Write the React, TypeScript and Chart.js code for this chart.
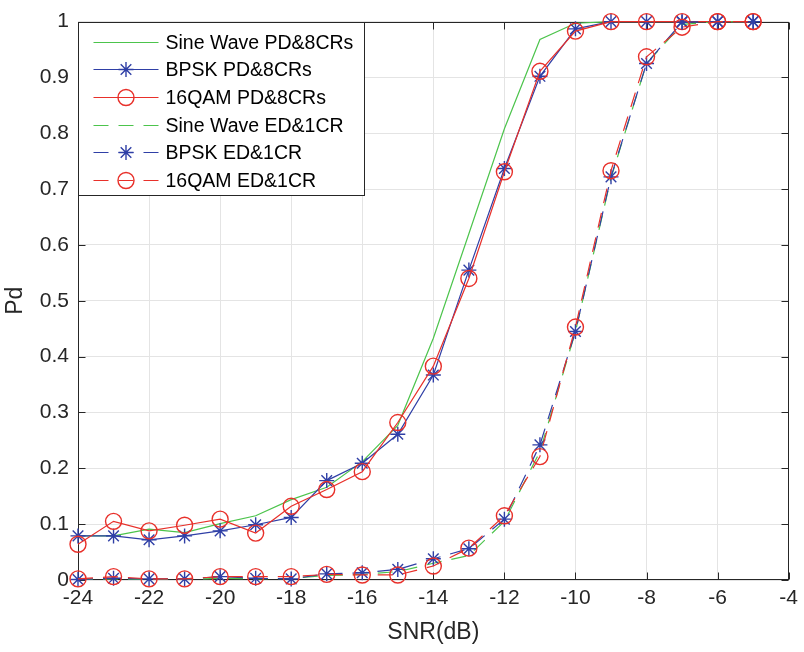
import React, { useEffect, useRef } from 'react';
import { Chart, registerables } from 'chart.js';

Chart.register(...registerables);

// ---- data ----
const snr = [-24, -23, -22, -21, -20, -19, -18, -17, -16, -15, -14, -13, -12, -11, -10, -9, -8, -7, -6, -5];

const sinePD = [0.079, 0.079, 0.091, 0.085, 0.101, 0.115, 0.144, 0.166, 0.212, 0.277, 0.433, 0.62, 0.808, 0.968, 0.997, 1, 1, 1, 1, 1];
const bpskPD = [0.079, 0.079, 0.072, 0.079, 0.088, 0.099, 0.112, 0.178, 0.209, 0.261, 0.367, 0.555, 0.737, 0.902, 0.987, 1, 1, 1, 1, 1];
const qamPD = [0.064, 0.105, 0.088, 0.098, 0.109, 0.084, 0.132, 0.162, 0.194, 0.282, 0.383, 0.54, 0.731, 0.911, 0.983, 1, 1, 1, 1, 1];

const sineED = [0.001, 0.002, 0.001, 0.001, 0.003, 0.002, 0.003, 0.008, 0.01, 0.015, 0.03, 0.044, 0.105, 0.23, 0.445, 0.72, 0.925, 0.995, 1, 1];
const bpskED = [0.001, 0.003, 0.002, 0.002, 0.006, 0.003, 0.002, 0.011, 0.013, 0.019, 0.038, 0.056, 0.109, 0.242, 0.445, 0.722, 0.925, 0.999, 1, 1];
const qamED = [0.002, 0.006, 0.002, 0.002, 0.006, 0.006, 0.006, 0.01, 0.009, 0.009, 0.025, 0.057, 0.115, 0.221, 0.453, 0.733, 0.937, 0.99, 1, 1];

const seriesNames = [
  'Sine Wave PD&8CRs',
  'BPSK PD&8CRs',
  '16QAM PD&8CRs',
  'Sine Wave ED&1CR',
  'BPSK ED&1CR',
  '16QAM ED&1CR',
];

const xTicks = [-24, -22, -20, -18, -16, -14, -12, -10, -8, -6, -4];
const xTickLabels = ['-24', '-22', '-20', '-18', '-16', '-14', '-12', '-10', '-8', '-6', '-4'];
const yTicks = [0, 0.1, 0.2, 0.3, 0.4, 0.5, 0.6, 0.7, 0.8, 0.9, 1];
const yTickLabels = ['0', '0.1', '0.2', '0.3', '0.4', '0.5', '0.6', '0.7', '0.8', '0.9', '1'];

const xTitle = 'SNR(dB)';
const yTitle = 'Pd';

// ---- styles ----
const FONT = '"Liberation Sans", Arial, Helvetica, sans-serif';
const GREEN = '#4cc44c';
const BLUE = '#2f3fa6';
const RED = '#e8302a';
const AXIS = '#262626';
const GRID = '#e4e4e4';
const DASH = [15, 10];
const TICK_SIZE = 21;
const TITLE_SIZE = 23;
const LEGEND_SIZE = 19.5;

function drawMarker(ctx: CanvasRenderingContext2D, style: string, x: number, y: number, r: number) {
  ctx.beginPath();
  if (style === 'circle') {
    ctx.arc(x, y, r, 0, Math.PI * 2);
  } else if (style === 'star') {
    const d = r * Math.SQRT1_2;
    ctx.moveTo(x - r, y); ctx.lineTo(x + r, y);
    ctx.moveTo(x, y - r); ctx.lineTo(x, y + r);
    ctx.moveTo(x - d, y - d); ctx.lineTo(x + d, y + d);
    ctx.moveTo(x - d, y + d); ctx.lineTo(x + d, y - d);
  }
  ctx.stroke();
}

const axesPlugin = {
  id: 'matlabAxes',
  beforeDatasetsDraw(chart: any) {
    const { ctx, chartArea, scales } = chart;
    const l = Math.round(chartArea.left) + 0.5;
    const r = Math.round(chartArea.right) - 0.5;
    const t = Math.round(chartArea.top) + 0.5;
    const b = Math.round(chartArea.bottom) - 0.5;
    ctx.save();
    ctx.strokeStyle = AXIS;
    ctx.lineWidth = 1;
    ctx.setLineDash([]);
    ctx.strokeRect(l, t, r - l, b - t);
    const tl = 7;
    ctx.beginPath();
    xTicks.forEach((v) => {
      const px = Math.round(scales.x.getPixelForValue(v)) + 0.5;
      ctx.moveTo(px, b); ctx.lineTo(px, b - tl);
      ctx.moveTo(px, t); ctx.lineTo(px, t + tl);
    });
    yTicks.forEach((v) => {
      const py = Math.round(scales.y.getPixelForValue(v)) + 0.5;
      ctx.moveTo(l, py); ctx.lineTo(l + tl, py);
      ctx.moveTo(r, py); ctx.lineTo(r - tl, py);
    });
    ctx.stroke();
    ctx.restore();
  },
};

const legendPlugin = {
  id: 'matlabLegend',
  afterDraw(chart: any) {
    const { ctx, chartArea } = chart;
    const x0 = Math.round(chartArea.left) + 0.5;
    const y0 = Math.round(chartArea.top) + 0.5;
    const w = 286;
    const h = 173;
    ctx.save();
    ctx.fillStyle = '#ffffff';
    ctx.fillRect(x0, y0, w, h);
    ctx.strokeStyle = AXIS;
    ctx.lineWidth = 1;
    ctx.setLineDash([]);
    ctx.strokeRect(x0, y0, w, h);
    chart.data.datasets.forEach((ds: any, i: number) => {
      const y = Math.round(y0 + 19 + i * 27.7) + 0.5;
      ctx.strokeStyle = ds.borderColor;
      ctx.lineWidth = ds.borderWidth;
      ctx.setLineDash(ds.borderDash || []);
      ctx.beginPath();
      ctx.moveTo(x0 + 15, y);
      ctx.lineTo(x0 + 80, y);
      ctx.stroke();
      ctx.setLineDash([]);
      if (ds.pointStyle && ds.pointRadius > 0) {
        ctx.lineWidth = ds.pointBorderWidth;
        ctx.strokeStyle = ds.pointBorderColor;
        drawMarker(ctx, ds.pointStyle, x0 + 47.5, y, ds.pointRadius);
      }
      ctx.fillStyle = '#000000';
      ctx.font = `${LEGEND_SIZE}px ${FONT}`;
      ctx.textBaseline = 'middle';
      ctx.textAlign = 'left';
      ctx.fillText(seriesNames[i], x0 + 87, y + 1);
    });
    ctx.restore();
  },
};

function makeDataset(i: number, values: number[], color: string, dashed: boolean, marker: string | null, radius: number) {
  return {
    label: seriesNames[i],
    data: snr.map((x, k) => ({ x, y: values[k] })),
    borderColor: color,
    backgroundColor: 'rgba(0,0,0,0)',
    borderWidth: 1.2,
    borderDash: dashed ? DASH : [],
    pointStyle: marker || 'circle',
    pointRadius: marker ? radius : 0,
    pointHoverRadius: marker ? radius : 0,
    pointBorderColor: color,
    pointBackgroundColor: 'rgba(0,0,0,0)',
    pointBorderWidth: 1.4,
    tension: 0,
    fill: false,
    clip: false,
    order: 6 - i,
  };
}

export default function App() {
  const canvasRef = useRef<HTMLCanvasElement | null>(null);

  useEffect(() => {
    const canvas = canvasRef.current;
    if (!canvas) return;
    const chart = new Chart(canvas, {
      type: 'line',
      data: {
        datasets: [
          makeDataset(0, sinePD, GREEN, false, null, 0),
          makeDataset(1, bpskPD, BLUE, false, 'star', 7.5),
          makeDataset(2, qamPD, RED, false, 'circle', 8),
          makeDataset(3, sineED, GREEN, true, null, 0),
          makeDataset(4, bpskED, BLUE, true, 'star', 7.5),
          makeDataset(5, qamED, RED, true, 'circle', 8),
        ] as any,
      },
      options: {
        responsive: false,
        animation: false,
        devicePixelRatio: 1,
        layout: { padding: { top: 14, right: 12, left: 0, bottom: 0 } },
        plugins: {
          legend: { display: false },
          tooltip: { enabled: false },
        },
        scales: {
          x: {
            type: 'linear',
            min: -24,
            max: -4,
            afterBuildTicks: (s: any) => { s.ticks = xTicks.map((v) => ({ value: v })); },
            afterFit: (s: any) => { s.height = 72; },
            ticks: {
              autoSkip: false,
              maxRotation: 0,
              padding: 6,
              color: AXIS,
              font: { family: FONT, size: TICK_SIZE },
              callback: (_v: any, idx: number) => xTickLabels[idx],
            },
            grid: { color: GRID, lineWidth: 1, drawTicks: false },
            border: { display: false },
            title: {
              display: true,
              text: xTitle,
              color: AXIS,
              font: { family: FONT, size: TITLE_SIZE },
              padding: 6,
            },
          },
          y: {
            type: 'linear',
            min: 0,
            max: 1,
            afterBuildTicks: (s: any) => { s.ticks = yTicks.map((v) => ({ value: v })); },
            afterFit: (s: any) => { s.width = 78; },
            ticks: {
              autoSkip: false,
              padding: 9,
              color: AXIS,
              font: { family: FONT, size: TICK_SIZE },
              callback: (_v: any, idx: number) => yTickLabels[idx],
            },
            grid: { color: GRID, lineWidth: 1, drawTicks: false },
            border: { display: false },
            title: {
              display: true,
              text: yTitle,
              color: AXIS,
              font: { family: FONT, size: TITLE_SIZE },
              padding: 2,
            },
          },
        },
      },
      plugins: [axesPlugin, legendPlugin],
    });
    return () => chart.destroy();
  }, []);

  return (
    <div style={{ position: 'fixed', left: 0, top: 0, width: 804, height: 652, background: '#ffffff' }}>
      <canvas ref={canvasRef} width={804} height={652} style={{ display: 'block', width: 804, height: 652 }} />
    </div>
  );
}
